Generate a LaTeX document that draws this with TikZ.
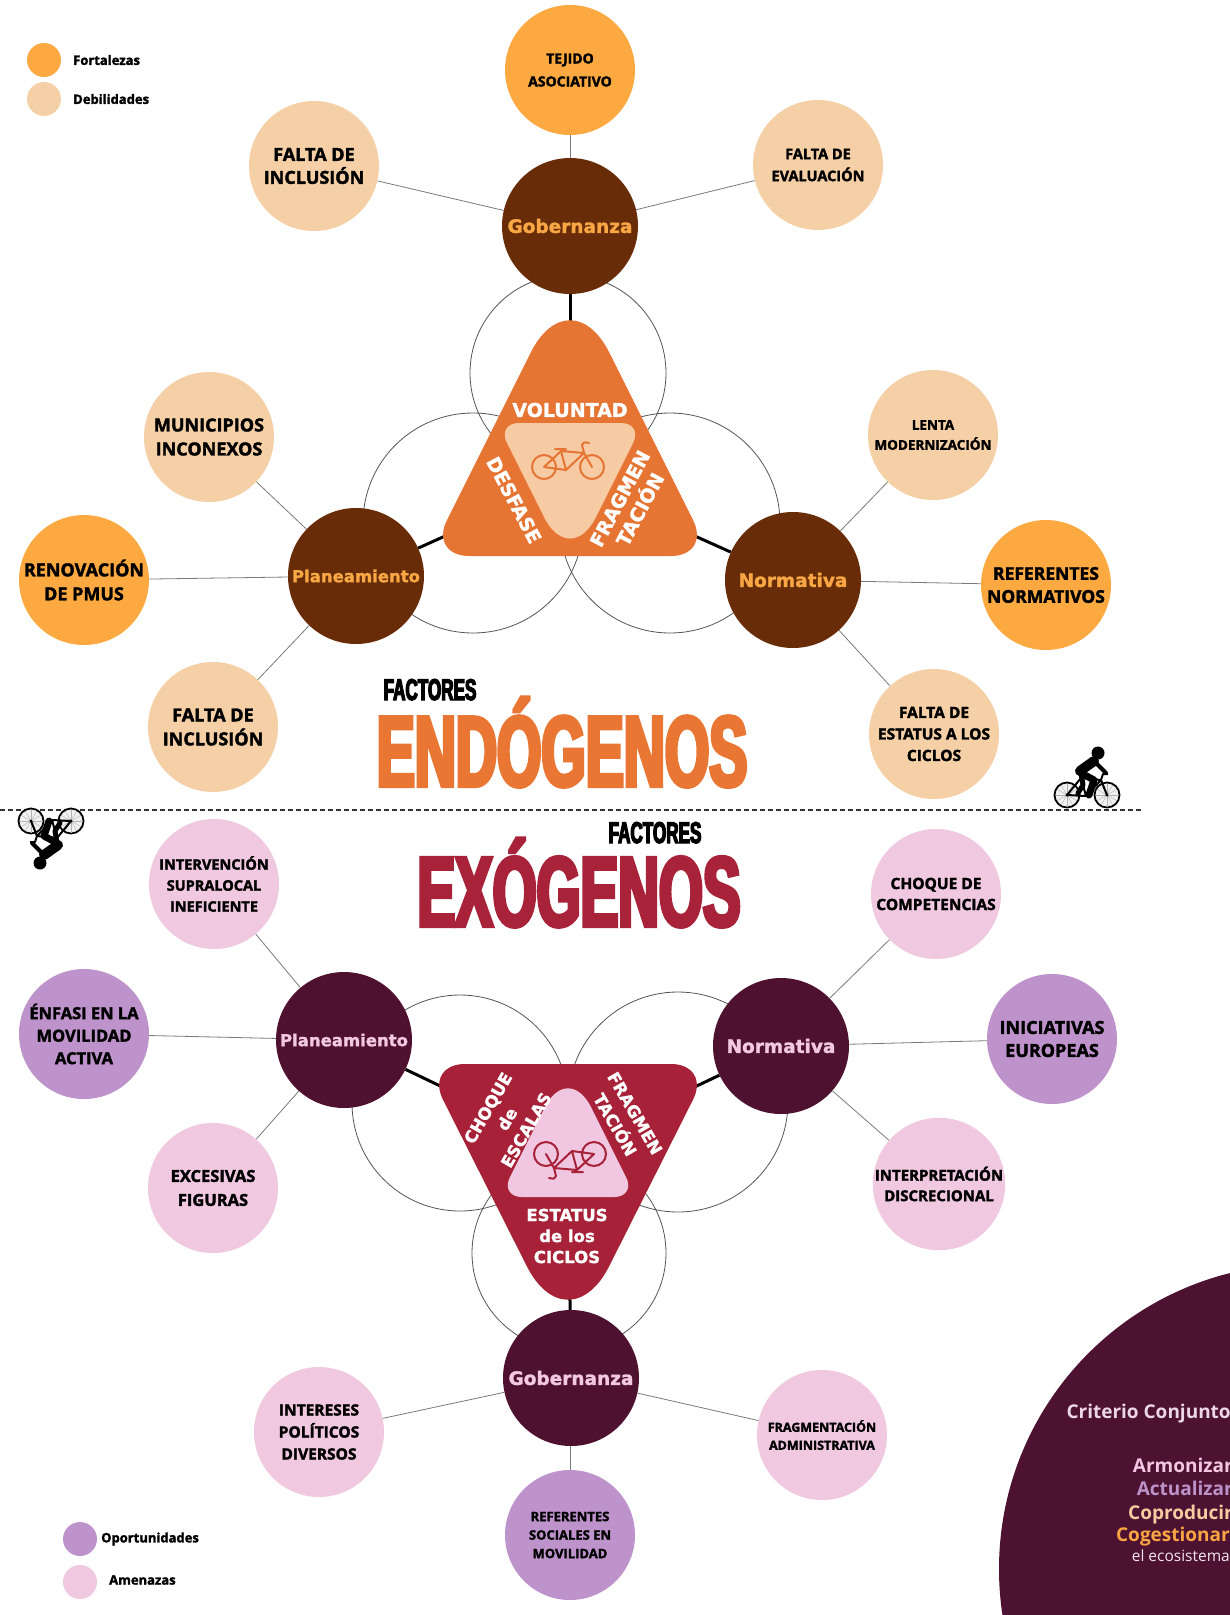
\documentclass[tikz,border=0pt]{standalone}
\usepackage{fontspec}
\usetikzlibrary{calc}
\setmainfont{Open Sans}[BoldFeatures={FakeBold=2}]
\newfontfamily\critfont{Open Sans}
\newfontfamily\hubfont{DejaVu Sans}[BoldFeatures={FakeBold=1.5}]
\newfontfamily\condfont[FakeStretch=0.57,BoldFeatures={FakeBold=4}]{Liberation Sans}
\newcommand\setfs[2]{\fontsize{#1}{#2}\selectfont}
% rounded triangle through the named vertices #1,#2,#3 with corner cuts #4,#5,#6
\newcommand\rtripath[6]{%
  ($(#1)!#4!(#2)$) -- ($(#2)!#5!(#1)$)
  .. controls ($(#2)!#5*0.45!(#1)$) and ($(#2)!#5*0.45!(#3)$) .. ($(#2)!#5!(#3)$)
  -- ($(#3)!#6!(#2)$)
  .. controls ($(#3)!#6*0.45!(#2)$) and ($(#3)!#6*0.45!(#1)$) .. ($(#3)!#6!(#1)$)
  -- ($(#1)!#4!(#3)$)
  .. controls ($(#1)!#4*0.45!(#3)$) and ($(#1)!#4*0.45!(#2)$) .. ($(#1)!#4!(#2)$)
  -- cycle}

\definecolor{fort}{HTML}{FBA940}
\definecolor{debil}{HTML}{F5CFA6}
\definecolor{hubtop}{HTML}{682D08}
\definecolor{triorange}{HTML}{E67534}
\definecolor{innerpeach}{HTML}{F6CBA3}
\definecolor{hublabeltop}{HTML}{F9A744}
\definecolor{oport}{HTML}{BE93CB}
\definecolor{amen}{HTML}{F0C8E0}
\definecolor{hubbot}{HTML}{4E1130}
\definecolor{tricrimson}{HTML}{A72238}
\definecolor{innerpink}{HTML}{F1C6E1}
\definecolor{hublabelbot}{HTML}{F3C8E3}
\definecolor{endo}{HTML}{E97633}
\definecolor{exo}{HTML}{A8223A}
\definecolor{plum}{HTML}{4D1231}
\definecolor{linkgray}{HTML}{7A7A7A}
\definecolor{orbitgray}{HTML}{555555}
\definecolor{critcol}{HTML}{EBD7E5}
\definecolor{pinktxt}{HTML}{F4C7E4}
\definecolor{lavtxt}{HTML}{BC93C9}
\definecolor{peachtxt}{HTML}{F7CBA2}
\definecolor{orangetxt}{HTML}{F9A544}
\definecolor{ecotxt}{HTML}{F2E4EC}

\tikzset{
  bikeicon/.pic={
    \draw[pic actions, line width=2, line join=round, line cap=round]
      (-26,4) circle (12) (22,4) circle (12)
      (-26,4) -- (-4,7) -- (-9,-12) -- cycle
      (-9,-12) -- (14,-10) -- (-4,7)
      (14,-10) -- (22,4)
      (-15,-14) -- (-4,-14)
      (14,-10) -- (12,-18) .. controls (14,-21) .. (19,-20);
  },
  rider/.pic={
    \foreach \wx in {-19,21} {
      \draw[line width=1.8, fill=gray!12] (\wx,0) circle (12.5);
      \foreach \a in {0,30,...,150}
        \draw[gray!60, line width=0.4] (\wx,0) ++(\a:11.5) -- ++(\a+180:23);
      \fill (\wx,0) circle (1.6);
    }
    \draw[line width=2, line join=round]
      (-19,0) -- (0,1) -- (-5,-17) -- cycle
      (-5,-17) -- (15,-15) -- (0,1)
      (15,-15) -- (21,0);
    \draw[line width=2, line join=round] (15,-15) -- (17,-21) -- (22,-21);
    \fill (12,-42) circle (6.5);
    \draw[line width=10, line cap=round] (-6,-24) -- (8,-34);
    \draw[line width=4, line cap=round, line join=round] (9,-33) -- (15,-27) -- (20,-22);
    \draw[line width=7, line cap=round, line join=round] (-5,-22) -- (8,-15) -- (3,0);
    \draw[line width=5, line cap=round, line join=round] (-5,-22) -- (-3,-10) -- (-8,-2);
  }
}

\begin{document}
\begin{tikzpicture}[x=1pt,y=-1pt,
  sat/.style={circle, minimum size=130, inner sep=0, align=center, text=black},
  hub/.style={circle, minimum size=136, inner sep=0},
  hubA/.style={hub, fill=hubtop, text=hublabeltop, font=\hubfont\bfseries\setfs{18.5}{20}},
  hubB/.style={hub, fill=hubbot, text=hublabelbot, font=\hubfont\bfseries\setfs{18.5}{20}},
  thinlink/.style={draw=linkgray, line width=0.8},
  thicklink/.style={draw=black, line width=3},
  orbit/.style={draw=orbitgray, line width=0.8},
  legdot/.style={circle, minimum size=34, inner sep=0},
  legtext/.style={anchor=west, inner sep=0, font=\bfseries\setfs{13}{14}},
  tritext/.style={text=white, align=center, inner sep=0},
  bigtitle/.style={anchor=base, inner sep=0, font=\condfont\bfseries},
  crittext/.style={anchor=base east, inner sep=0, font=\critfont\bfseries\setfs{19}{19}},
]
\useasboundingbox (0,0) rectangle (1230,1615);
\fill[white] (0,0) rectangle (1230,1615);
\clip (0,0) rectangle (1230,1615);

% ---------- closing disc with the joint criterion ----------
\fill[plum] (1304,1569) circle (305);
\node[crittext, text=critcol] (crit) at (1231,1418) {Criterio Conjunto};
\node[crittext, text=pinktxt] (armo) at (1233,1472) {Armonizar};
\node[crittext, text=lavtxt] (actu) at (1233,1495) {Actualizar};
\node[crittext, text=peachtxt] (copro) at (1233,1519) {Coproducir};
\node[crittext, text=orangetxt] (coges) at (1230,1541) {Cogestionar};
\node[crittext, text=ecotxt, font=\critfont\setfs{15.5}{15.5}] (eco) at (1230,1561) {el ecosistema};

% ---------- legends ----------
\node[legdot, fill=fort] (legF) at (44,60) {};
\node[legtext] (legFt) at (73,60) {Fortalezas};
\node[legdot, fill=debil] (legD) at (44,99) {};
\node[legtext] (legDt) at (73,99) {Debilidades};
\node[legdot, fill=oport] (legO) at (80,1539) {};
\node[legtext] (legOt) at (101,1539) {Oportunidades};
\node[legdot, fill=amen] (legA) at (80,1582) {};
\node[legtext] (legAt) at (109,1580) {Amenazas};

% ---------- orbit circles ----------
\draw[orbit] (568,373) circle (98);
\draw[orbit] (473,523) circle (110);
\draw[orbit] (670,523) circle (110);
\draw[orbit] (569,1253) circle (97);
\draw[orbit] (460,1103) circle (108);
\draw[orbit] (678,1102) circle (110);

\coordinate (tcA) at (570,480);
\coordinate (tcB) at (568,1147);

% ---------- endogenous hubs ----------
\node[hubA] (gobA) at (570,226) {Gobernanza};
\node[hubA, font=\hubfont\bfseries\setfs{16.5}{20}] (planA) at (356,576) {Planeamiento};
\node[hubA] (normA) at (793,580) {Normativa};
\draw[thicklink] (gobA) -- (tcA);
\draw[thicklink] (planA) -- (tcA);
\draw[thicklink] (normA) -- (tcA);

% endogenous triangle
\coordinate (oA) at (570,274);
\coordinate (oB) at (711,556);
\coordinate (oC) at (429,556);
\coordinate (iA) at (570,569);
\coordinate (iB) at (497,423);
\coordinate (iC) at (643,423);
\fill[triorange] \rtripath{oA}{oB}{oC}{88pt}{40pt}{40pt};
\fill[innerpeach] \rtripath{iA}{iB}{iC}{58pt}{22pt}{22pt};
\pic[draw=triorange] at (570,463) {bikeicon};
\node[tritext, font=\hubfont\bfseries\setfs{19}{23}] (vol) at (570,410) {VOLUNTAD};
\node[tritext, font=\hubfont\bfseries\setfs{19}{23}, rotate=-62] (desf) at (514,500) {DESFASE};
\node[tritext, font=\hubfont\bfseries\setfs{19}{23}, rotate=62] (fragA) at (630,504) {FRAGMEN\\TACIÓN};

% endogenous factors
\node[sat, fill=fort, font=\bfseries\setfs{14}{23}] (tejido) at (570,70) {TEJIDO\\ASOCIATIVO};
\node[sat, fill=debil, font=\bfseries\setfs{18}{23}] (faltaInc) at (314,166) {FALTA DE\\INCLUSIÓN};
\node[sat, fill=debil, font=\bfseries\setfs{14.5}{22}] (faltaEval) at (818,165) {FALTA DE\\EVALUACIÓN};
\node[sat, fill=debil, font=\bfseries\setfs{18}{24}] (muni) at (209,437) {MUNICIPIOS\\INCONEXOS};
\node[sat, fill=fort, font=\bfseries\setfs{18}{24}] (renov) at (84,580) {RENOVACIÓN\\DE PMUS};
\node[sat, fill=debil, font=\bfseries\setfs{18}{24}] (faltaInc2) at (213,727) {FALTA DE\\INCLUSIÓN};
\node[sat, fill=debil, font=\bfseries\setfs{13.5}{20}] (lenta) at (933,435) {LENTA\\MODERNIZACIÓN};
\node[sat, fill=fort, font=\bfseries\setfs{17.5}{23}] (refNorm) at (1046,585) {REFERENTES\\NORMATIVOS};
\node[sat, fill=debil, font=\bfseries\setfs{15.5}{21.5}] (faltaEst) at (934,734) {FALTA DE\\ESTATUS A LOS\\CICLOS};

\draw[thinlink] (gobA) -- (tejido);
\draw[thinlink] (gobA) -- (faltaInc);
\draw[thinlink] (gobA) -- (faltaEval);
\draw[thinlink] (planA) -- (muni);
\draw[thinlink] (planA) -- (renov);
\draw[thinlink] (planA) -- (faltaInc2);
\draw[thinlink] (normA) -- (lenta);
\draw[thinlink] (normA) -- (refNorm);
\draw[thinlink] (normA) -- (faltaEst);

% ---------- titles ----------
\node[bigtitle, font=\condfont\bfseries\setfs{30}{30}] (factA) at (430,700) {FACTORES};
\node[bigtitle, text=endo, font=\condfont\bfseries\setfs{100}{100}] (endoT) at (562,786) {ENDÓGENOS};
\node[bigtitle, font=\condfont\bfseries\setfs{30}{30}] (factB) at (655,843) {FACTORES};
\node[bigtitle, text=exo, font=\condfont\bfseries\setfs{99}{99}] (exoT) at (579,926) {EXÓGENOS};

% ---------- divider and riders ----------
\draw[draw=black!80, line width=1.6, dash pattern=on 5 off 3] (0,810) -- (1142,810);
\pic at (1086,795) {rider};
\pic[rotate=180] at (52,821) {rider};

% ---------- exogenous hubs ----------
\node[hubB, font=\hubfont\bfseries\setfs{16.5}{20}] (planB) at (344,1040) {Planeamiento};
\node[hubB] (normB) at (781,1046) {Normativa};
\node[hubB] (gobB) at (571,1378) {Gobernanza};
\draw[thicklink] (planB) -- (tcB);
\draw[thicklink] (normB) -- (tcB);
\draw[thicklink] (gobB) -- (tcB);

% exogenous triangle
\coordinate (pA) at (568,1348);
\coordinate (pB) at (425,1064);
\coordinate (pC) at (711,1064);
\coordinate (qA) at (568,1061);
\coordinate (qB) at (636,1197);
\coordinate (qC) at (500,1197);
\fill[tricrimson] \rtripath{pA}{pB}{pC}{92pt}{40pt}{40pt};
\fill[innerpink] \rtripath{qA}{qB}{qC}{52pt}{22pt}{22pt};
\pic[draw=tricrimson, rotate=180] at (568,1158) {bikeicon};
\node[tritext, font=\hubfont\bfseries\setfs{16.5}{22}, rotate=60] (choqueE) at (507,1119) {CHOQUE\\de\\ESCALAS};
\node[tritext, font=\hubfont\bfseries\setfs{16.5}{23}, rotate=-60] (fragB) at (625,1119) {FRAGMEN\\TACIÓN};
\node[tritext, font=\hubfont\bfseries\setfs{16.5}{21}] (estatus) at (567,1236) {ESTATUS\\de los\\CICLOS};

% exogenous factors
\node[sat, fill=amen, font=\bfseries\setfs{14.5}{21}] (interv) at (214,884) {INTERVENCIÓN\\SUPRALOCAL\\INEFICIENTE};
\node[sat, fill=amen, font=\bfseries\setfs{15.5}{21}] (choqueC) at (936,894) {CHOQUE DE\\COMPETENCIAS};
\node[sat, fill=oport, font=\bfseries\setfs{16.5}{22.5}] (enfasi) at (84,1034) {ÉNFASI EN LA\\MOVILIDAD\\ACTIVA};
\node[sat, fill=oport, font=\bfseries\setfs{18}{23}] (inic) at (1052,1039) {INICIATIVAS\\EUROPEAS};
\node[sat, fill=amen, font=\bfseries\setfs{16.5}{24}] (excesivas) at (213,1188) {EXCESIVAS\\FIGURAS};
\node[sat, fill=amen, font=\bfseries\setfs{15}{20.5}] (interp) at (939,1184) {INTERPRETACIÓN\\DISCRECIONAL};
\node[sat, fill=amen, font=\bfseries\setfs{15.5}{22}] (intereses) at (319,1432) {INTERESES\\POLÍTICOS\\DIVERSOS};
\node[sat, fill=amen, font=\bfseries\setfs{12.5}{18}] (fragAdm) at (822,1435) {FRAGMENTACIÓN\\ADMINISTRATIVA};
\node[sat, fill=oport, font=\bfseries\setfs{13}{18.5}] (refSoc) at (570,1535) {REFERENTES\\SOCIALES EN\\MOVILIDAD};

\draw[thinlink] (planB) -- (interv);
\draw[thinlink] (planB) -- (enfasi);
\draw[thinlink] (planB) -- (excesivas);
\draw[thinlink] (normB) -- (choqueC);
\draw[thinlink] (normB) -- (inic);
\draw[thinlink] (normB) -- (interp);
\draw[thinlink] (gobB) -- (intereses);
\draw[thinlink] (gobB) -- (fragAdm);
\draw[thinlink] (gobB) -- (refSoc);
\end{tikzpicture}
\end{document}
